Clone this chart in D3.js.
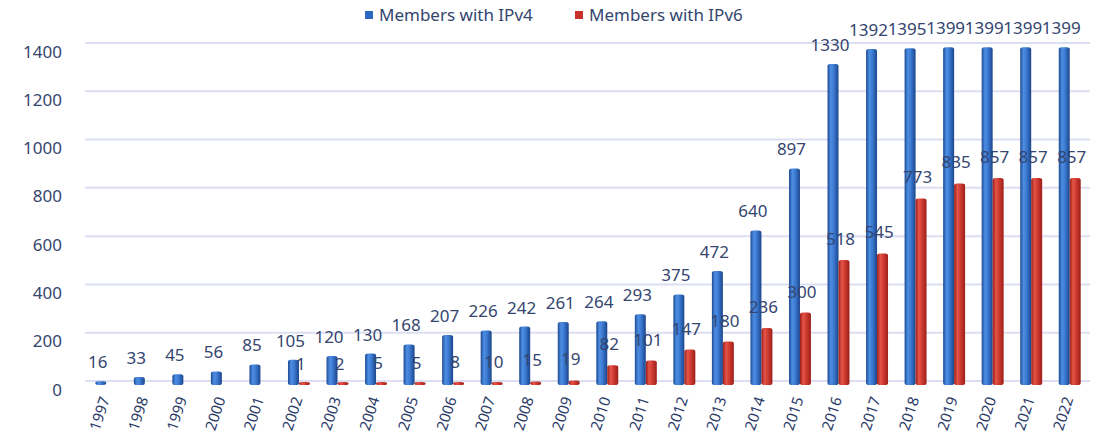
<!DOCTYPE html>
<html>
<head>
<meta charset="utf-8">
<script src="https://cdn.jsdelivr.net/npm/d3@7/dist/d3.min.js"></script>
<style>
  body { margin: 0; background: #fff; }
  text { font-family: "Noto Sans", "Open Sans", sans-serif; fill: #34456f; }
</style>
</head>
<body>
<div id="chart"></div>
<script>
const years = ["1997","1998","1999","2000","2001","2002","2003","2004","2005","2006","2007","2008","2009",
  "2010","2011","2012","2013","2014","2015","2016","2017","2018","2019","2020","2021","2022"];
const ipv4 = [16,33,45,56,85,105,120,130,168,207,226,242,261,264,293,375,472,640,897,1330,1392,1395,1399,1399,1399,1399];
const ipv6 = [null,null,null,null,null,1,2,5,5,8,10,15,19,82,101,147,180,236,300,518,545,773,835,857,857,857];
const yTicks = [0,200,400,600,800,1000,1200,1400];
const seriesNames = ["Members with IPv4", "Members with IPv6"];

const width = 1102, height = 437;
const svg = d3.select("#chart").append("svg")
  .attr("width", width)
  .attr("height", height);

const defs = svg.append("defs");
function cylinder(id, stops) {
  const g = defs.append("linearGradient").attr("id", id).attr("x1", "0").attr("x2", "1").attr("y1", "0").attr("y2", "0");
  stops.forEach(s => g.append("stop").attr("offset", s[0]).attr("stop-color", s[1]));
}
cylinder("gBlue", [["0%", "#1d4a94"], ["30%", "#4d8ee2"], ["55%", "#3d7cd4"], ["100%", "#1b458c"]]);
cylinder("gRed", [["0%", "#9a1c17"], ["30%", "#e4554a"], ["55%", "#d23d32"], ["100%", "#9c1f19"]]);

const x = d3.scaleBand().domain(years).range([87, 1089]).paddingInner(0.43).paddingOuter(0.215);
const x1 = d3.scaleBand().domain(["v4", "v6"]).range([0, x.bandwidth()]);
const y = d3.scaleLinear().domain([0, 1400]).range([385, 47]);

// gridlines on the back wall
svg.append("g").selectAll("line")
  .data(yTicks)
  .enter().append("line")
  .attr("x1", 85).attr("x2", 1090)
  .attr("y1", d => y(d) - 4).attr("y2", d => y(d) - 4)
  .style("stroke", "#dcdff2")
  .style("stroke-width", 2);

// y axis labels
svg.append("g").selectAll("text")
  .data(yTicks)
  .enter().append("text")
  .attr("x", 62)
  .attr("y", d => y(d) + 4)
  .attr("text-anchor", "end")
  .attr("dominant-baseline", "central")
  .style("font-size", "17px")
  .text(d => d);

const rows = years.map((yr, i) => ({ year: yr, v4: ipv4[i], v6: ipv6[i] }));

const group = svg.append("g").selectAll("g")
  .data(rows)
  .enter().append("g")
  .attr("transform", d => `translate(${x(d.year)},0)`);

group.append("rect")
  .attr("x", x1("v4"))
  .attr("width", x1.bandwidth())
  .attr("y", d => y(d.v4))
  .attr("height", d => y(0) - y(d.v4))
  .attr("rx", 3).attr("ry", 2)
  .style("fill", "url(#gBlue)");

group.filter(d => d.v6 !== null).append("rect")
  .attr("x", x1("v6"))
  .attr("width", x1.bandwidth())
  .attr("y", d => Math.min(y(d.v6), y(0) - 3))
  .attr("height", d => Math.max(y(0) - y(d.v6), 3))
  .attr("rx", 3).attr("ry", 2)
  .style("fill", "url(#gRed)");

group.append("text")
  .attr("x", x1("v4") + x1.bandwidth() / 2 - 3)
  .attr("y", d => y(d.v4) - 13)
  .attr("text-anchor", "middle")
  .style("font-size", "17px")
  .text(d => d.v4);

group.filter(d => d.v6 !== null).append("text")
  .attr("x", x.bandwidth() / 2 + 2)
  .attr("y", d => y(d.v6) - 15)
  .attr("text-anchor", "middle")
  .style("font-size", "17px")
  .text(d => d.v6);

// x axis labels
group.append("text")
  .attr("transform", `translate(${x.bandwidth() / 2 - 2},397) rotate(-72)`)
  .attr("text-anchor", "end")
  .attr("dominant-baseline", "central")
  .style("font-size", "15px")
  .style("fill", "#2b3b68")
  .text(d => d.year);

// legend
const legendX = [365, 575];
const legendColors = ["#2a66c2", "#c8302a"];
const legend = svg.append("g").selectAll("g")
  .data(seriesNames)
  .enter().append("g")
  .attr("transform", (d, i) => `translate(${legendX[i]},0)`);
legend.append("rect")
  .attr("x", 0).attr("y", 11).attr("width", 8).attr("height", 8)
  .style("fill", (d, i) => legendColors[i]);
legend.append("text")
  .attr("x", 14).attr("y", 21)
  .style("font-size", "17px")
  .text(d => d);
</script>
</body>
</html>
